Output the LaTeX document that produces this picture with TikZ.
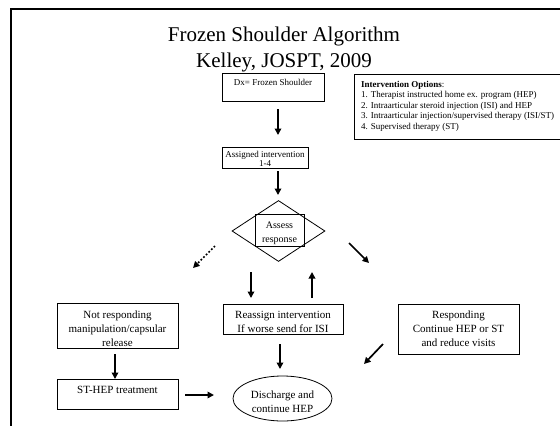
\documentclass[tikz,border=0pt]{standalone}
\usepackage{fontspec}
\setmainfont{Liberation Serif}
\usetikzlibrary{shapes.geometric,arrows.meta}
\begin{document}
\begin{tikzpicture}[x=1pt,y=-1pt,
  box/.style={draw, line width=0.8pt, inner sep=0pt},
  ln/.style={anchor=base, inner sep=0pt, font=\fontsize{11}{13}\selectfont},
  sm/.style={anchor=base, inner sep=0pt, font=\fontsize{9}{10.5}\selectfont},
  opt/.style={anchor=base west, inner sep=0pt, font=\fontsize{9}{10}\selectfont},
  arr/.style={line width=1.7pt, -{Triangle[width=6.5pt,length=6.5pt]}},
  dotarr/.style={line width=1.7pt, dotted, -{Triangle[width=6.5pt,length=6.5pt]}}]
\useasboundingbox (0,0) rectangle (560,426);
% slide frame
\draw[line width=2pt] (11,426) -- (11,9) -- (560,9);
% title
\node (title1) [anchor=base, inner sep=0pt, font=\fontsize{21}{25}\selectfont]
  at (284,41) {Frozen Shoulder Algorithm};
\node (title2) [anchor=base, inner sep=0pt, font=\fontsize{21}{25}\selectfont]
  at (284,67) {Kelley, JOSPT, 2009};
% diagnosis and assignment
\node (dx) [box, minimum width=102, minimum height=28] at (273,87) {};
\node (dxt) [sm] at (273,85) {Dx= Frozen Shoulder};
\node (asg) [box, minimum width=86, minimum height=21] at (265,157.5) {};
\node (asg1) [sm] at (265,157) {Assigned intervention};
\node (asg2) [sm] at (265,166) {1-4};
% list of options
\node (opts) [box, anchor=north west, minimum width=215, minimum height=65]
  at (354,74) {};
\node (opt0) [opt] at (361,87) {\textbf{Intervention Options}:};
\node (opt1) [opt] at (361,97.5) {1. Therapist instructed home ex. program (HEP)};
\node (opt2) [opt] at (361,108) {2. Intraarticular steroid injection (ISI) and HEP};
\node (opt3) [opt] at (361,118.5) {3. Intraarticular injection/supervised therapy (ISI/ST)};
\node (opt4) [opt] at (361,129) {4. Supervised therapy (ST)};
% decision
\node (dia) [draw, line width=0.8pt, diamond, minimum width=93,
  minimum height=61, inner sep=0pt] at (278.5,231) {};
\node (assess) [box, minimum width=49, minimum height=32] at (279.5,230) {};
\node (as1) [sm, font=\fontsize{10}{11}\selectfont] at (279.5,228) {Assess};
\node (as2) [sm, font=\fontsize{10}{11}\selectfont] at (279.5,242) {response};
% outcome boxes
\node (notr) [box, minimum width=121, minimum height=45] at (117.5,325.5) {};
\node (notr1) [ln] at (117.5,318.5) {Not responding};
\node (notr2) [ln] at (117.5,332.5) {manipulation/capsular};
\node (notr3) [ln] at (117.5,346) {release};
\node (reas) [box, minimum width=120, minimum height=30] at (283,319) {};
\node (reas1) [ln] at (283,318.5) {Reassign intervention};
\node (reas2) [ln] at (283,332.5) {If worse send for ISI};
\node (resp) [box, minimum width=121, minimum height=50] at (458.5,329) {};
\node (resp1) [ln] at (458.5,318.5) {Responding};
\node (resp2) [ln] at (458.5,332.5) {Continue HEP or ST};
\node (resp3) [ln] at (458.5,346) {and reduce visits};
% final steps
\node (sthep) [box, minimum width=121, minimum height=30] at (117.5,394) {};
\node (sthept) [ln] at (117.5,393) {ST-HEP treatment};
\node (dis) [draw, line width=0.8pt, ellipse, minimum width=99,
  minimum height=45, inner sep=0pt] at (282.5,398.5) {};
\node (dis1) [ln] at (282.5,398.5) {Discharge and};
\node (dis2) [ln] at (282.5,412.5) {continue HEP};
% connectors
\coordinate (a1s) at (278,109); \coordinate (a1e) at (278,135);
\draw[arr] (a1s) -- (a1e);
\coordinate (a2s) at (278,171); \coordinate (a2e) at (278,195);
\draw[arr] (a2s) -- (a2e);
\coordinate (dls) at (215,246); \coordinate (dle) at (193,268);
\draw[dotarr] (dls) -- (dle);
\coordinate (drs) at (349,243); \coordinate (dre) at (369,263);
\draw[arr] (drs) -- (dre);
\coordinate (dns) at (251,272); \coordinate (dne) at (251,298);
\draw[arr] (dns) -- (dne);
\coordinate (ups) at (312,298); \coordinate (upe) at (312,272);
\draw[arr] (ups) -- (upe);
\coordinate (nds) at (115,354); \coordinate (nde) at (115,379);
\draw[arr] (nds) -- (nde);
\coordinate (rts) at (185,395); \coordinate (rte) at (214,395);
\draw[arr] (rts) -- (rte);
\coordinate (rds) at (280,344); \coordinate (rde) at (280,369);
\draw[arr] (rds) -- (rde);
\coordinate (dgs) at (383,344); \coordinate (dge) at (364,364);
\draw[arr] (dgs) -- (dge);
\end{tikzpicture}
\end{document}
